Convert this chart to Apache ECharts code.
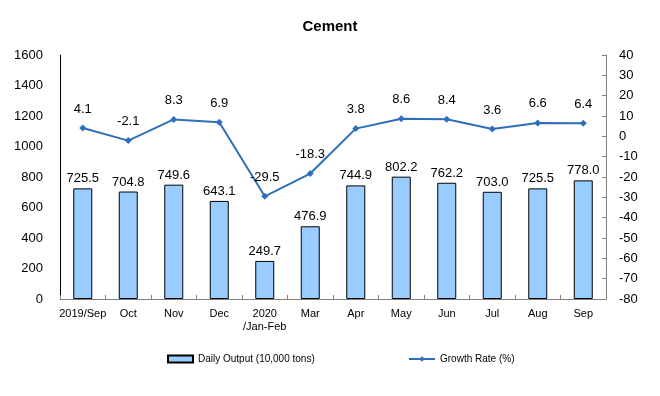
<!DOCTYPE html>
<html>
<head>
<meta charset="utf-8">
<script src="https://cdn.jsdelivr.net/npm/echarts@6/dist/echarts.min.js"></script>
<style>
  html, body { margin: 0; padding: 0; background: #fff; }
  #chart { width: 660px; height: 396px; }
</style>
</head>
<body>
<div id="chart"></div>
<script>
// data
var months = ["2019/Sep", "Oct", "Nov", "Dec", "2020\n/Jan-Feb", "Mar", "Apr", "May", "Jun", "Jul", "Aug", "Sep"];
var dailyOutput = [725.5, 704.8, 749.6, 643.1, 249.7, 476.9, 744.9, 802.2, 762.2, 703.0, 725.5, 778.0];
var growthRate = [4.1, -2.1, 8.3, 6.9, -29.5, -18.3, 3.8, 8.6, 8.4, 3.6, 6.6, 6.4];

var chartInstance = echarts.init(document.getElementById("chart"));
var font = "Liberation Sans, Arial, sans-serif";

var option = {
  backgroundColor: "#FFF",
  animation: false,
  textStyle: { fontFamily: font },
  title: {
    text: "Cement",
    left: "center",
    top: 14,
    textStyle: { fontSize: 15, fontWeight: "bold", color: "#000", fontFamily: font },
  },
  legend: [
    {
      data: [{ name: "Daily Output (10,000 tons)", icon: "rect" }],
      left: 162,
      top: 349,
      itemWidth: 25,
      itemHeight: 7,
      textStyle: { fontSize: 10, color: "#000", fontFamily: font },
    },
    {
      data: ["Growth Rate (%)"],
      left: 403,
      top: 349,
      itemWidth: 26,
      itemHeight: 7,
      textStyle: { fontSize: 10, color: "#000", fontFamily: font },
    },
  ],
  grid: { left: 60, right: 54, top: 55, bottom: 97 },
  xAxis: {
    type: "category",
    data: months,
    boundaryGap: true,
    axisLine: { lineStyle: { color: "#808080" } },
    axisTick: { show: true, inside: true, length: 4, lineStyle: { color: "#808080" } },
    axisLabel: { fontSize: 11, color: "#000", margin: 8, lineHeight: 13, interval: 0 },
  },
  yAxis: [
    {
      type: "value",
      min: 0,
      max: 1600,
      interval: 200,
      splitLine: { show: false },
      axisLine: { show: true, lineStyle: { color: "#000" } },
      axisTick: { show: false },
      axisLabel: {
        fontSize: 13,
        color: "#000",
        margin: 17,
        formatter: function (v) { return String(v); },
      },
    },
    {
      type: "value",
      min: -80,
      max: 40,
      interval: 10,
      splitLine: { show: false },
      axisLine: { show: true, lineStyle: { color: "#808080" } },
      axisTick: { show: true, inside: true, length: 4, lineStyle: { color: "#808080" } },
      axisLabel: { fontSize: 13, color: "#000", margin: 13 },
    },
  ],
  series: [
    {
      name: "Daily Output (10,000 tons)",
      type: "bar",
      barWidth: 19,
      itemStyle: { color: "#99CCFF", borderColor: "#000", borderWidth: 1 },
      label: {
        show: true,
        position: "top",
        distance: 3,
        fontSize: 13,
        color: "#000",
        formatter: function (p) { return p.value.toFixed(1); },
      },
      data: dailyOutput,
    },
    {
      name: "Growth Rate (%)",
      type: "line",
      yAxisIndex: 1,
      symbol: "diamond",
      symbolSize: 7,
      itemStyle: { color: "#2F6EBA" },
      lineStyle: { width: 2, color: "#2F6EBA" },
      label: {
        show: true,
        position: "top",
        distance: 9,
        fontSize: 13,
        color: "#000",
        formatter: function (p) { return p.value.toFixed(1); },
      },
      data: growthRate,
    },
  ],
};

chartInstance.setOption(option);
</script>
</body>
</html>
